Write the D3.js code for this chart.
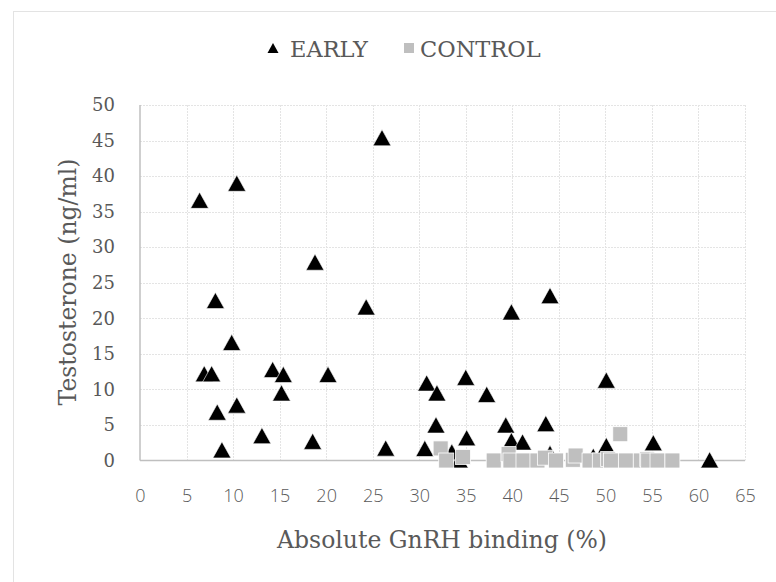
<!DOCTYPE html>
<html>
<head>
<meta charset="utf-8">
<script src="https://cdn.jsdelivr.net/npm/d3@7"></script>
<style>
  html, body { margin: 0; padding: 0; background: #fff; }
  svg { display: block; }
</style>
</head>
<body>
<svg id="chart" width="776" height="582"></svg>
<script>
// ---- data ----
const seriesNames = ["EARLY", "CONTROL"];
const earlyX = [6.4, 10.4, 18.8, 26.0, 8.1, 24.3, 9.85, 6.9, 7.7, 14.25, 15.4, 20.2, 15.2, 8.3, 10.4, 13.1, 18.55, 8.8, 26.4, 30.6, 30.8,
  44.05, 39.9, 35.0, 31.9, 37.25, 50.1, 31.8, 39.3, 43.6, 35.1, 39.9, 41.1, 55.15, 50.1, 61.2, 33.5, 34.3, 44.05, 48.7];
const earlyY = [36.6, 39.0, 27.9, 45.4, 22.5, 21.6, 16.6, 12.2, 12.2, 12.8, 12.1, 12.1, 9.5, 6.8, 7.8, 3.5, 2.7, 1.5, 1.75, 1.7, 10.9,
  23.2, 20.9, 11.7, 9.5, 9.3, 11.3, 5.0, 5.0, 5.2, 3.2, 2.8, 2.6, 2.5, 2.1, 0.1, 1.2, 0.1, 1.0, 0.6];
const controlX = [32.3, 32.9, 34.7, 38.0, 39.6, 39.8, 41.2, 42.7, 43.5, 44.7, 46.5, 46.8, 48.3, 49.4, 50.3, 50.6, 51.6, 52.2, 53.8, 54.5, 54.6, 55.6, 57.2];
const controlY = [1.7, 0.0, 0.5, 0.0, 0.9, 0.0, 0.0, 0.0, 0.4, 0.0, 0.1, 0.7, 0.0, 0.0, 0.2, 0.0, 3.7, 0.0, 0.0, 0.2, 0.0, 0.0, 0.0];
const xTicks = [0, 5, 10, 15, 20, 25, 30, 35, 40, 45, 50, 55, 60, 65];
const yTicks = [0, 5, 10, 15, 20, 25, 30, 35, 40, 45, 50];
const xTitle = "Absolute GnRH binding (%)";
const yTitle = "Testosterone (ng/ml)";

// ---- layout ----
const svg = d3.select("#chart");
const x = d3.scaleLinear().domain([0, 65]).range([140, 745]);
const y = d3.scaleLinear().domain([0, 50]).range([460.5, 105]);
const serif = "'DejaVu Serif', serif";
const sans = "'Open Sans', 'DejaVu Sans', sans-serif";
const textCol = "#595959";

// chart border
svg.append("rect").attr("x", 13.5).attr("y", 11.5).attr("width", 800).attr("height", 600)
  .attr("fill", "none").attr("stroke", "#e3e3e3").attr("stroke-width", 1);

// gridlines
const grid = svg.append("g");
grid.selectAll("line.v").data(xTicks.filter(d => d > 0)).join("line")
  .attr("x1", d => Math.round(x(d)) + 0.5).attr("x2", d => Math.round(x(d)) + 0.5)
  .attr("y1", y(50)).attr("y2", y(0))
  .attr("stroke", "#e4e4e4").attr("stroke-width", 1).attr("stroke-dasharray", "2,1");
grid.selectAll("line.h").data(yTicks.filter(d => d > 0)).join("line")
  .attr("y1", d => Math.round(y(d)) + 0.5).attr("y2", d => Math.round(y(d)) + 0.5)
  .attr("x1", x(0)).attr("x2", x(65))
  .attr("stroke", "#e4e4e4").attr("stroke-width", 1).attr("stroke-dasharray", "2,1");

// axes lines
svg.append("line").attr("x1", x(0)).attr("x2", x(65)).attr("y1", y(0)).attr("y2", y(0))
  .attr("stroke", "#bfbfbf").attr("stroke-width", 1.5);
svg.append("line").attr("x1", x(0)).attr("x2", x(0)).attr("y1", y(50)).attr("y2", y(0))
  .attr("stroke", "#bfbfbf").attr("stroke-width", 1.5);

// axes via d3 axis for labels
const xAxis = svg.append("g").attr("transform", `translate(0,${y(0)})`)
  .call(d3.axisBottom(x).tickValues(xTicks).tickSize(0).tickPadding(29).tickFormat(d3.format("d")));
xAxis.select(".domain").remove();
xAxis.selectAll("text").attr("fill", textCol).style("font-family", sans).style("font-size", "18px").style("font-weight", 300);

const yAxis = svg.append("g").attr("transform", `translate(${x(0)},0)`)
  .call(d3.axisLeft(y).tickValues(yTicks).tickSize(0).tickPadding(25).tickFormat(d3.format("d")));
yAxis.select(".domain").remove();
yAxis.selectAll("text").attr("fill", textCol).style("font-family", serif).style("font-size", "18px");

// titles
svg.append("text").attr("x", 442).attr("y", 548).attr("text-anchor", "middle")
  .attr("fill", textCol).style("font-family", serif).style("font-size", "23.5px").text(xTitle);
svg.append("text").attr("transform", "translate(76,282) rotate(-90)").attr("text-anchor", "middle")
  .attr("fill", textCol).style("font-family", serif).style("font-size", "23.5px").text(yTitle);

// markers
const triPath = (s) => { const h = s * 0.9; return `M0,${-h/2}L${s/2},${h/2}L${-s/2},${h/2}Z`; };
const early = earlyX.map((v, i) => ({ x: v, y: earlyY[i] }));
const control = controlX.map((v, i) => ({ x: v, y: controlY[i] }));

svg.append("g").selectAll("path").data(early).join("path")
  .attr("transform", d => `translate(${x(d.x)},${y(d.y)})`)
  .attr("d", triPath(18))
  .attr("fill", "#000").attr("stroke", "#fff").attr("stroke-width", 0.6);

svg.append("g").selectAll("rect").data(control).join("rect")
  .attr("x", d => x(d.x) - 7.5).attr("y", d => y(d.y) - 7.5)
  .attr("width", 15).attr("height", 15)
  .attr("fill", "#bfbfbf").attr("stroke", "#fff").attr("stroke-width", 0.8);

// legend
const leg = svg.append("g");
leg.append("path").attr("transform", "translate(273,48)").attr("d", triPath(11)).attr("fill", "#000");
leg.append("text").attr("x", 290).attr("y", 57).attr("fill", textCol)
  .style("font-family", serif).style("font-size", "22.5px").text(seriesNames[0]);
leg.append("rect").attr("x", 404).attr("y", 43).attr("width", 10).attr("height", 10).attr("fill", "#bfbfbf");
leg.append("text").attr("x", 420).attr("y", 57).attr("fill", textCol)
  .style("font-family", serif).style("font-size", "22.5px").text(seriesNames[1]);
</script>
</body>
</html>
